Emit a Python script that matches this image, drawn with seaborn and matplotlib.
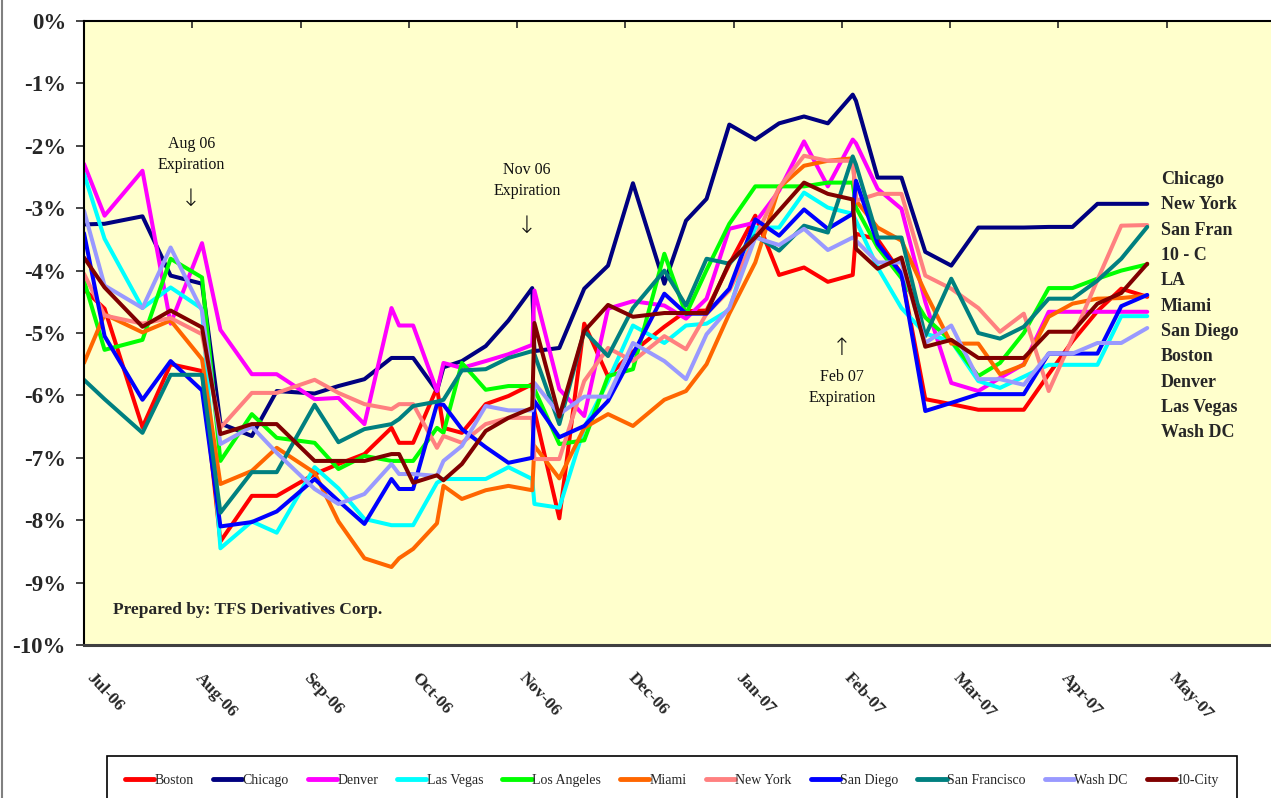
import numpy as np
import pandas as pd
import matplotlib
matplotlib.use("Agg")
import matplotlib.pyplot as plt
import seaborn as sns
from matplotlib.lines import Line2D
from matplotlib.transforms import ScaledTranslation

# ---------------- data ----------------
month_labels = ["Jul-06", "Aug-06", "Sep-06", "Oct-06", "Nov-06", "Dec-06",
                "Jan-07", "Feb-07", "Mar-07", "Apr-07", "May-07"]

# observation dates, in months after Jul-06
obs_month = [0.00, 0.19, 0.54, 0.80, 1.09, 1.26, 1.55, 1.78, 2.13, 2.35,
             2.59, 2.84, 2.91, 3.04, 3.26, 3.32, 3.49, 3.71, 3.92, 4.14,
             4.16, 4.39, 4.62, 4.84, 5.07, 5.36, 5.56, 5.75, 5.96, 6.20,
             6.42, 6.65, 6.87, 7.10, 7.13, 7.33, 7.55, 7.77, 8.01, 8.26,
             8.46, 8.68, 8.91, 9.13, 9.36, 9.58, 9.82]

boston = [-4.3, -4.61, -6.51, -5.5, -5.61, -8.34, -7.61, -7.61, -7.26, -7.1,
          -6.94, -6.52, -6.76, -6.76, -5.88, -6.52, -6.6, -6.14, -6.01, -5.82,
          -6.25, -7.97, -4.85, -5.7, -5.3, -4.9, -4.65, -4.64, -3.9, -3.12,
          -4.07, -3.95, -4.18, -4.07, -3.41, -3.5, -4.05, -6.06, -6.14, -6.23,
          -6.23, -6.23, -5.66, -5.13, -4.65, -4.29, -4.42]
chicago = [-3.26, -3.25, -3.13, -4.08, -4.21, -6.45, -6.65, -5.93, -5.97, -5.85,
           -5.74, -5.4, -5.4, -5.4, -5.93, -5.55, -5.45, -5.21, -4.8, -4.28,
           -5.29, -5.24, -4.29, -3.92, -2.6, -4.21, -3.2, -2.85, -1.66, -1.9,
           -1.64, -1.53, -1.64, -1.18, -1.28, -2.51, -2.51, -3.7, -3.92, -3.31,
           -3.31, -3.31, -3.30, -3.30, -2.93, -2.93, -2.93]
denver = [-2.29, -3.12, -2.4, -4.85, -3.56, -4.95, -5.66, -5.66, -6.06, -6.04,
          -6.46, -4.6, -4.88, -4.88, -5.93, -5.48, -5.56, -5.45, -5.34, -5.19,
          -4.32, -5.9, -6.33, -4.61, -4.49, -4.56, -4.77, -4.45, -3.33, -3.23,
          -2.72, -1.93, -2.65, -1.9, -1.96, -2.69, -3.01, -4.5, -5.8, -5.93,
          -5.72, -5.5, -4.66, -4.66, -4.66, -4.66, -4.66]
las_vegas = [-2.45, -3.49, -4.6, -4.27, -4.61, -8.45, -8.02, -8.2, -7.15, -7.49,
             -7.98, -8.08, -8.08, -8.08, -7.4, -7.34, -7.34, -7.34, -7.15, -7.34,
             -7.74, -7.8, -6.52, -5.77, -4.88, -5.16, -4.88, -4.85, -4.63, -3.31,
             -3.31, -2.75, -2.99, -3.09, -3.2, -3.95, -4.6, -5.01, -5.13, -5.77,
             -5.88, -5.7, -5.51, -5.51, -5.51, -4.73, -4.73]
los_angeles = [-4.16, -5.27, -5.11, -3.81, -4.11, -7.05, -6.3, -6.68, -6.76, -7.18,
               -6.97, -7.05, -7.05, -7.05, -6.52, -6.6, -5.48, -5.91, -5.85, -5.85,
               -5.9, -6.78, -6.72, -5.69, -5.58, -3.73, -4.7, -3.99, -3.25, -2.65,
               -2.65, -2.65, -2.59, -2.59, -2.99, -3.63, -4.12, -4.75, -5.13, -5.69,
               -5.48, -5.0, -4.28, -4.28, -4.13, -4.0, -3.9]
miami = [-5.48, -4.7, -4.99, -4.8, -5.42, -7.42, -7.21, -6.84, -7.24, -8.02,
         -8.61, -8.75, -8.61, -8.46, -8.05, -7.45, -7.66, -7.52, -7.45, -7.52,
         -6.81, -7.33, -6.52, -6.3, -6.49, -6.07, -5.93, -5.5, -4.69, -3.87,
         -2.67, -2.32, -2.24, -2.2, -2.88, -3.31, -3.52, -4.35, -5.17, -5.17,
         -5.66, -5.51, -4.74, -4.53, -4.45, -4.44, -4.4]
new_york = [-4.05, -4.72, -4.85, -4.76, -5.02, -6.52, -5.96, -5.96, -5.75, -5.96,
            -6.14, -6.22, -6.14, -6.14, -6.84, -6.65, -6.76, -6.46, -6.36, -6.36,
            -7.02, -7.02, -5.77, -5.24, -5.45, -5.05, -5.26, -4.69, -4.32, -3.47,
            -2.67, -2.16, -2.24, -2.24, -2.88, -2.77, -2.77, -4.08, -4.29, -4.6,
            -4.98, -4.69, -5.93, -5.08, -4.15, -3.28, -3.27]
san_diego = [-3.4, -5.05, -6.07, -5.45, -5.92, -8.1, -8.03, -7.86, -7.34, -7.69,
             -8.06, -7.34, -7.5, -7.5, -6.14, -6.15, -6.54, -6.83, -7.08, -7.0,
             -6.09, -6.67, -6.49, -6.09, -5.34, -4.37, -4.69, -4.69, -4.29, -3.18,
             -3.44, -3.02, -3.33, -3.09, -2.56, -3.57, -4.05, -6.25, -6.12, -5.98,
             -5.98, -5.98, -5.33, -5.33, -5.33, -4.57, -4.39]
san_francisco = [-5.75, -6.06, -6.6, -5.67, -5.67, -7.88, -7.23, -7.23, -6.15, -6.75,
                 -6.54, -6.46, -6.38, -6.17, -6.1, -6.07, -5.6, -5.58, -5.4, -5.29,
                 -5.34, -6.46, -4.97, -5.37, -4.6, -4.0, -4.56, -3.81, -3.89, -3.44,
                 -3.68, -3.28, -3.39, -2.17, -2.3, -3.47, -3.47, -5.05, -4.13, -5.0,
                 -5.09, -4.9, -4.45, -4.45, -4.16, -3.81, -3.3]
wash_dc = [-3.04, -4.24, -4.6, -3.63, -4.64, -6.78, -6.5, -6.92, -7.5, -7.74,
           -7.58, -7.1, -7.26, -7.26, -7.29, -7.05, -6.81, -6.17, -6.24, -6.24,
           -5.8, -6.3, -6.02, -6.02, -5.16, -5.45, -5.74, -5.02, -4.6, -3.47,
           -3.59, -3.33, -3.67, -3.47, -3.52, -3.87, -3.87, -5.16, -4.88, -5.74,
           -5.74, -5.83, -5.33, -5.33, -5.16, -5.16, -4.92]
ten_city = [-3.79, -4.27, -4.9, -4.64, -4.91, -6.62, -6.46, -6.46, -7.05, -7.05,
            -7.05, -6.94, -6.94, -7.4, -7.28, -7.36, -7.1, -6.57, -6.36, -6.2,
            -4.84, -6.34, -4.97, -4.55, -4.74, -4.68, -4.68, -4.68, -3.87, -3.47,
            -3.04, -2.59, -2.77, -2.86, -3.65, -3.97, -3.79, -5.22, -5.11, -5.4,
            -5.4, -5.4, -4.98, -4.98, -4.53, -4.36, -3.89]

city_names = ["Boston", "Chicago", "Denver", "Las Vegas", "Los Angeles", "Miami",
              "New York", "San Diego", "San Francisco", "Wash DC", "10-City"]
city_values = [boston, chicago, denver, las_vegas, los_angeles, miami,
               new_york, san_diego, san_francisco, wash_dc, ten_city]
city_colors = ["#FF0000", "#000080", "#FF00FF", "#00FFFF", "#00FF00", "#FF6600",
               "#FF8080", "#0000FF", "#008080", "#9999FF", "#800000"]

rank_labels = ["Chicago", "New York", "San Fran", "10 - C", "LA", "Miami",
               "San Diego", "Boston", "Denver", "Las Vegas", "Wash DC"]
y_ticks = list(range(-10, 1))

# ---------------- figure ----------------
sns.set_style("white")
plt.rcParams["font.family"] = ["Liberation Serif", "DejaVu Serif"]

df = pd.concat([pd.DataFrame({"month": obs_month, "chg": v, "city": n})
                for n, v in zip(city_names, city_values)], ignore_index=True)

W, H = 1271, 798
fig = plt.figure(figsize=(W / 100, H / 100), dpi=100)
fig.patch.set_facecolor("white")
ax = fig.add_axes([84 / W, 153 / H, 1191 / W, 624 / H])
ax.set_facecolor("#FFFFCC")

sns.lineplot(data=df, x="month", y="chg", hue="city", hue_order=city_names,
             palette=city_colors, estimator=None, sort=False, lw=2.9,
             legend=False, ax=ax)

ax.set_xlim(0, 11)
ax.set_ylim(-10, 0)
ax.set_xlabel("")
ax.set_ylabel("")

ax.set_xticks(range(len(month_labels)))
ax.set_xticklabels(month_labels, rotation=-47, ha="left", va="center",
                   rotation_mode="anchor", fontsize=12.5, fontweight="bold")
ax.tick_params(axis="x", top=True, bottom=False, labeltop=False,
               labelbottom=True, direction="in", length=5, width=1.2, pad=22)
for lab in ax.get_xticklabels():
    lab.set_transform(lab.get_transform() +
                      ScaledTranslation(5 / 100, 0, fig.dpi_scale_trans))

ax.set_yticks(y_ticks)
ax.set_yticklabels([f"{v}%" for v in y_ticks], fontsize=16.5, fontweight="bold")
ax.tick_params(axis="y", left=True, direction="out", length=6, width=1.2, pad=7)

for s in ["top", "left"]:
    ax.spines[s].set_color("black")
    ax.spines[s].set_linewidth(1.5)
ax.spines["bottom"].set_color("#404040")
ax.spines["bottom"].set_linewidth(2.2)
ax.spines["right"].set_visible(False)

# expiration annotations
ann_kw = dict(ha="center", va="center", fontsize=11.5, color="#111111")
arr_kw = dict(ha="center", va="center", fontsize=17, color="#111111",
              family=["DejaVu Sans"], fontweight="light")
ax.text(0.99, -2.14, "Aug 06\nExpiration", linespacing=1.45, **ann_kw)
ax.text(0.99, -2.85, "↓", **arr_kw)
ax.text(4.09, -2.56, "Nov 06\nExpiration", linespacing=1.45, **ann_kw)
ax.text(4.09, -3.28, "↓", **arr_kw)
ax.text(7.0, -5.24, "↑", **arr_kw)
ax.text(7.0, -5.87, "Feb 07\nExpiration", linespacing=1.45, **ann_kw)

ax.text(0.27, -9.44, "Prepared by: TFS Derivatives Corp.", ha="left",
        va="center", fontsize=12.5, fontweight="bold")

for i, name in enumerate(rank_labels):
    ax.text(9.945, -2.54 - 0.406 * i, name, ha="left", va="center",
            fontsize=13, fontweight="bold")

# legend
handles = [Line2D([0], [0], color=c, lw=3.5) for c in city_colors]
leg = fig.legend(handles, city_names, loc="upper center",
                 bbox_to_anchor=(672 / W, 1 - 756 / H), ncol=len(city_names),
                 fontsize=10, handlelength=2.1, handletextpad=0.05,
                 columnspacing=1.35, borderpad=1.3, borderaxespad=0,
                 frameon=True, fancybox=False, framealpha=1,
                 edgecolor="black")
leg.get_frame().set_linewidth(1.2)

# outer chart border on the left
fig.add_artist(Line2D([1.5 / W, 1.5 / W], [0, 1], color="#808080", lw=1.5))

fig.savefig("out.png", dpi=100, facecolor="white")
